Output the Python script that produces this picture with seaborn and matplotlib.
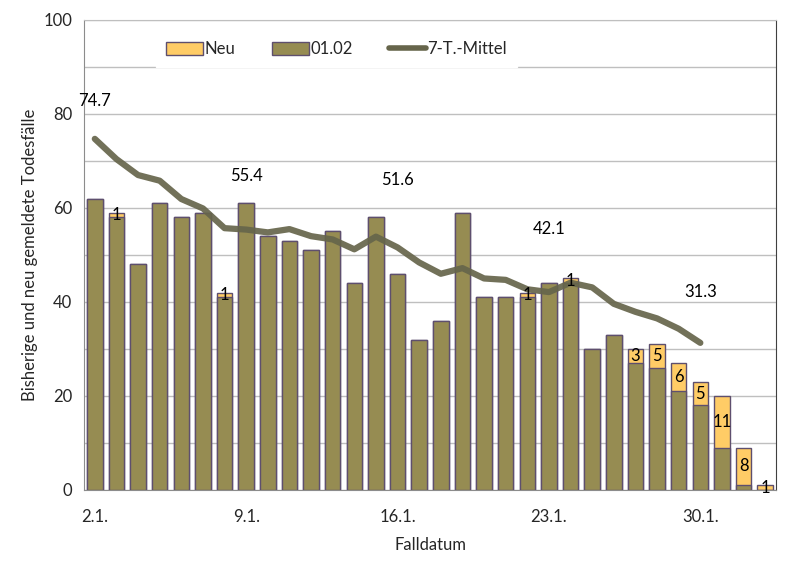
import matplotlib
matplotlib.use("Agg")
import matplotlib.pyplot as plt
import seaborn as sns
import pandas as pd
from matplotlib.patches import Patch
from matplotlib.lines import Line2D

# Fälle nach Falldatum (2.1. bis 2.2.)
days = [f"{d}.1." for d in range(2, 32)] + ["1.2.", "2.2."]
old = [62, 58, 48, 61, 58, 59, 41, 61, 54, 53, 51, 55, 44, 58, 46, 32,
       36, 59, 41, 41, 41, 44, 44, 30, 33, 27, 26, 21, 18, 9, 1, 0]
new = [0, 1, 0, 0, 0, 0, 1, 0, 0, 0, 0, 0, 0, 0, 0, 0,
       0, 0, 0, 0, 1, 0, 1, 0, 0, 3, 5, 6, 5, 11, 8, 1]
mean7 = [74.7, 70.4, 67.0, 65.8, 61.9, 59.9, 55.7, 55.4, 54.8, 55.5, 54.0,
         53.3, 51.2, 53.9, 51.6, 48.4, 46.0, 47.2, 45.0, 44.7, 42.7, 42.1,
         44.1, 43.1, 39.6, 37.9, 36.5, 34.3, 31.3]
label_days = [0, 7, 14, 21, 28]
label_lift = [8.0, 11.4, 14.4, 13.4, 10.8]

c_new = "#FFCC66"
c_old = "#968C52"
c_edge = "#5E4F6E"
c_line = "#66654B"

df = pd.DataFrame({"day": days, "old": old, "new": new})
df["total"] = df["old"] + df["new"]
df["pos"] = range(len(df))

sns.set_style("white")
plt.rcParams["font.family"] = ["Lato", "DejaVu Sans"]

fig = plt.figure(figsize=(8.03, 5.73), dpi=100)
ax = fig.add_axes([0.1046, 0.1449, 0.8618, 0.8203])

sns.barplot(data=df, x="pos", y="total", color=c_new, edgecolor=c_edge,
            linewidth=1, width=0.72, saturation=1, ax=ax, zorder=2)
sns.barplot(data=df, x="pos", y="old", color=c_old, edgecolor=c_edge,
            linewidth=1, width=0.72, saturation=1, ax=ax, zorder=3)

mdf = pd.DataFrame({"pos": range(len(mean7)), "mean": mean7})
sns.lineplot(data=mdf, x="pos", y="mean", color=c_line, linewidth=4.5,
             alpha=0.92, ax=ax, zorder=4)

# Werte der neuen Fälle
for i, (o, n) in enumerate(zip(old, new)):
    if n > 0:
        ax.text(i, o + n / 2, str(n), ha="center", va="center",
                fontsize=12, color="black", zorder=5)

# 7-Tage-Mittel Beschriftung
for d, lift in zip(label_days, label_lift):
    ax.text(d, mean7[d] + lift, f"{mean7[d]:.1f}", ha="center", va="center",
            fontsize=12, color="black", zorder=5)

ax.set_xlim(-0.5, len(days) - 0.5)
ax.set_ylim(0, 100)
ax.set_yticks(range(0, 101, 20))
ax.set_yticks(range(0, 101, 10), minor=True)
ax.grid(axis="y", which="both", color="#BFBFBF", linewidth=1, zorder=0)
ax.set_axisbelow(True)
ax.set_xticks(label_days)
ax.set_xticklabels([days[d] for d in label_days])
ax.set_xticks([d - 0.5 for d in label_days], minor=True)
ax.tick_params(axis="x", which="major", length=0, labelsize=12, pad=14)
ax.tick_params(axis="x", which="minor", length=5, color="#8C8C8C")
ax.tick_params(axis="y", which="major", length=5, color="#8C8C8C", labelsize=12)
ax.tick_params(axis="y", which="minor", length=0)

for s in ["left", "bottom", "top"]:
    ax.spines[s].set_color("#8C8C8C")
ax.spines["top"].set_color("#BFBFBF")
ax.spines["right"].set_color("#404040")

ax.set_xlabel("Falldatum", fontsize=12, labelpad=8)
ax.set_ylabel("Bisherige und neu gemeldete Todesfälle", fontsize=12)

handles = [Patch(facecolor=c_new, edgecolor=c_edge, label="Neu"),
           Patch(facecolor=c_old, edgecolor=c_edge, label="01.02"),
           Line2D([0], [0], color=c_line, linewidth=4, label="7-T.-Mittel")]
leg = ax.legend(handles=handles, ncol=3, loc="center", bbox_to_anchor=(0.365, 0.938),
                frameon=True, fontsize=12, handlelength=2.2, handleheight=0.8,
                columnspacing=2.2, handletextpad=0.1, borderpad=0.6, fancybox=False)
leg.get_frame().set_facecolor("white")
leg.get_frame().set_edgecolor("white")
leg.get_frame().set_alpha(1)
leg.set_zorder(6)

fig.savefig("out.png", dpi=100)
